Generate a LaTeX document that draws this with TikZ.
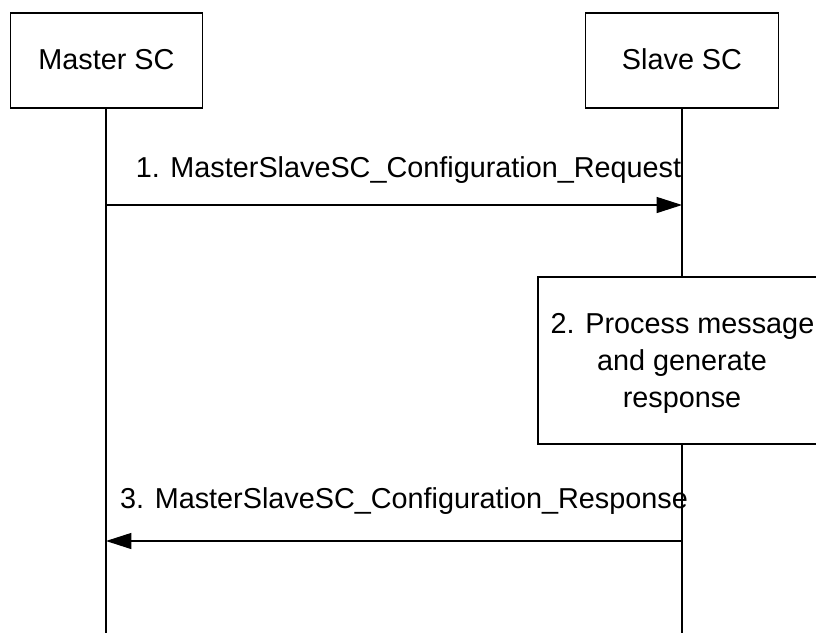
\documentclass[tikz,border=0pt]{standalone}
\usepackage{fontspec}
\setmainfont{Liberation Sans}
\usetikzlibrary{arrows.meta}
\begin{document}
\begin{tikzpicture}[x=0.75pt,y=-0.75pt,
  every node/.style={font=\fontsize{21.6pt}{27.75pt}\selectfont, inner sep=0pt},
  actor/.style={draw, line width=0.9pt, minimum width=144.5pt, minimum height=71.25pt},
  procbox/.style={draw, line width=0.9pt, minimum width=216pt, minimum height=125.25pt, align=center},
  life/.style={line width=0.9pt},
  msg/.style={line width=0.9pt, -{Triangle[length=19pt,width=12pt]}},
  lbl/.style={anchor=base}]
\useasboundingbox (0,0) rectangle (816,632);
\clip (0,0) rectangle (816,632);
\node[actor] (master) at (106.5,60.5) {};
\node[lbl] (mt) at (106.5,69) {Master SC};
\node[actor] (slave) at (682,60.5) {};
\node[lbl] (st) at (682,69) {Slave SC};
\node[procbox] (proc) at (682,360.5) {};
\node[lbl] (p1) at (682.5,333) {2. Process message};
\node[lbl] (p2) at (682,370) {and generate};
\node[lbl] (p3) at (682,407) {response};
\coordinate (mend) at (106,640);
\coordinate (send) at (682,640);
\draw[life] (master.south -| mend) -- (mend);
\draw[life] (slave.south) -- (proc.north);
\draw[life] (proc.south) -- (send);
\coordinate (m1) at (106,205);
\coordinate (s1) at (682,205);
\coordinate (m3) at (106,541);
\coordinate (s3) at (682,541);
\draw[msg] (m1) -- (s1);
\draw[msg] (s3) -- (m3);
\node[lbl] (l1) at (408.5,177) {1. MasterSlaveSC\_Configuration\_Request};
\node[lbl] (l3) at (404,508) {3. MasterSlaveSC\_Configuration\_Response};
\end{tikzpicture}
\end{document}
